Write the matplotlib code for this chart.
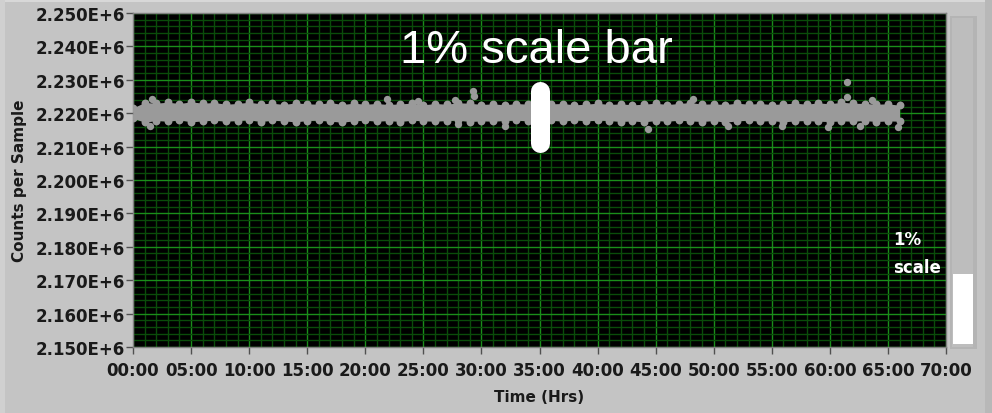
import matplotlib.pyplot as plt
from matplotlib.patches import Rectangle
from matplotlib.ticker import MultipleLocator, FuncFormatter

# band envelope, one value per hour (counts)
hours = list(range(0, 67))
upper = [2221600, 2223200, 2223000, 2223300, 2222900, 2223400, 2223000, 2223200, 2222700, 2222900,
         2223300, 2222800, 2223000, 2222600, 2223100, 2222800, 2222700, 2223200, 2222600, 2223000,
         2222700, 2222900, 2222600, 2222800, 2223000, 2222500, 2222900, 2222700, 2223100, 2223000,
         2222600, 2222800, 2222500, 2222900, 2222700, 2222600, 2222800, 2222900, 2222500, 2222700,
         2223000, 2222600, 2222800, 2222500, 2222700, 2223000, 2222600, 2222900, 2223200, 2222700,
         2222800, 2222600, 2223000, 2222700, 2222900, 2222600, 2222800, 2223000, 2222700, 2223100,
         2222800, 2223300, 2223000, 2222900, 2222700, 2222800, 2222400]
lower = [2218500, 2217300, 2217800, 2217600, 2218000, 2217400, 2217700, 2217900, 2217600, 2217800,
         2218000, 2217500, 2217900, 2217700, 2217400, 2217800, 2217900, 2217600, 2217300, 2217700,
         2217900, 2217600, 2217800, 2217500, 2217900, 2217700, 2217600, 2217800, 2217900, 2217500,
         2217700, 2217600, 2217800, 2217900, 2217700, 2217800, 2217900, 2217600, 2218000, 2217700,
         2217900, 2217800, 2217500, 2217700, 2217400, 2217800, 2217600, 2217900, 2217700, 2217500,
         2217800, 2217300, 2217700, 2217900, 2217600, 2217800, 2217400, 2217700, 2217800, 2217600,
         2217500, 2217700, 2217600, 2217800, 2217500, 2217700, 2217600]

# isolated points outside the band
out_t = [1.6, 1.5, 21.9, 24.5, 27.7, 29.3, 29.4, 28.0, 32.0, 44.3, 48.2, 51.2, 55.9, 59.8, 61.5, 61.5, 62.6, 63.6, 65.9]
out_v = [2224300, 2216200, 2224300, 2223600, 2224000, 2226600, 2225100, 2216800, 2216200, 2215300,
         2224300, 2216200, 2216200, 2215900, 2229300, 2224900, 2216200, 2223900, 2215900]

bar_t = 35.0
bar_lo, bar_hi = 2211200, 2226500

W, H = 992, 414
fig = plt.figure(figsize=(W / 100, H / 100), dpi=100)
fig.patch.set_facecolor('#c4c4c4')

# panel frame bits
fig.add_artist(Rectangle((0, 1 - 3 / H), 1, 3 / H, transform=fig.transFigure, color='#d8d8d8', lw=0))
fig.add_artist(Rectangle((0, 0), 5 / W, 1, transform=fig.transFigure, color='#d0d0d0', lw=0))
fig.add_artist(Rectangle((950 / W, 1 - 350 / H), 27 / W, 333 / H, transform=fig.transFigure,
                         color='#b4b4b4', lw=0))
fig.add_artist(Rectangle((952 / W, 1 - 348 / H), 21 / W, 329 / H, transform=fig.transFigure,
                         color='#bdbdbd', lw=0))
fig.add_artist(Rectangle((953 / W, 1 - 345 / H), 20 / W, 70 / H, transform=fig.transFigure,
                         color='white', lw=0))
fig.add_artist(Rectangle((985 / W, 0), 7 / W, 1, transform=fig.transFigure, color='#b8b8b8', lw=0))

ax = fig.add_axes([133 / W, 1 - 348 / H, 813 / W, 334 / H])
ax.set_facecolor('black')
ax.set_xlim(0, 70)
ax.set_ylim(2150000, 2250000)

ax.xaxis.set_major_locator(MultipleLocator(5))
ax.xaxis.set_minor_locator(MultipleLocator(1))
ax.yaxis.set_major_locator(MultipleLocator(10000))
ax.yaxis.set_minor_locator(MultipleLocator(2000))
ax.grid(which='minor', color='#0a4c0a', lw=1.0)
ax.grid(which='major', color='#1a8e1a', lw=1.0)
ax.set_axisbelow(True)

ax.xaxis.set_major_formatter(FuncFormatter(lambda v, p: '%02d:00' % int(round(v))))
ax.yaxis.set_major_formatter(FuncFormatter(lambda v, p: '%.3fE+6' % (v / 1e6)))
ax.tick_params(which='minor', length=0)
ax.tick_params(axis='y', which='major', length=5, width=1, color='#505050', pad=1,
               labelsize=12, labelcolor='#1a1a1a')
ax.tick_params(axis='x', which='major', length=5, width=1, color='#505050', pad=5,
               labelsize=12, labelcolor='#1a1a1a')
for lab in ax.get_xticklabels() + ax.get_yticklabels():
    lab.set_fontweight('bold')
for s in ax.spines.values():
    s.set_color('#808080')
    s.set_linewidth(1)

ax.set_xlabel('Time (Hrs)', fontsize=11, fontweight='bold', color='#1a1a1a', labelpad=7)
ax.set_ylabel('Counts per Sample', fontsize=11, fontweight='bold', color='#1a1a1a', labelpad=6)

gray = '#9a9a9a'
ax.fill_between(hours, lower, upper, color=gray, lw=0, zorder=3)
ax.scatter(hours, upper, s=32, color=gray, lw=0, zorder=3)
ax.scatter(hours, lower, s=32, color=gray, lw=0, zorder=3)
ax.scatter(out_t, out_v, s=28, color=gray, lw=0, zorder=3)

ax.plot([bar_t, bar_t], [bar_lo, bar_hi], color='white', lw=13.7, solid_capstyle='round', zorder=5)
ax.text(34.7, 2235300, '1% scale bar', color='white', fontsize=34, family='Liberation Sans',
        ha='center', va='baseline', zorder=6)

fig.text(893 / W, 1 - 245 / H, '1%', color='white', fontsize=12, fontweight='bold', va='baseline')
fig.text(893 / W, 1 - 273 / H, 'scale', color='white', fontsize=12, fontweight='bold', va='baseline')

fig.savefig('out.png', dpi=100, facecolor=fig.get_facecolor())
